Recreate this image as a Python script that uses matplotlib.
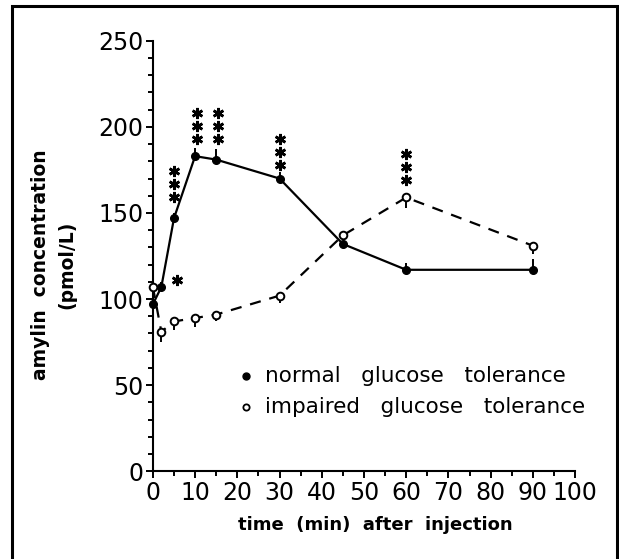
import matplotlib
matplotlib.use("Agg")
import matplotlib.pyplot as plt
from matplotlib.patches import Rectangle
from matplotlib.ticker import MultipleLocator

# sampling times (min after injection)
times = [0, 2, 5, 10, 15, 30, 45, 60, 90]

# amylin (pmol/L), normal glucose tolerance (filled), SEM drawn upward
normal = [97, 107, 147, 183, 181, 170, 132, 117, 117]
normal_sem = [3, 3, 3, 5, 6, 4, 2, 4, 6]

# impaired glucose tolerance (open), SEM drawn downward
impaired = [107, 81, 87, 89, 91, 102, 137, 159, 131]
impaired_sem = [3, 6, 5, 5, 4, 4, 2, 6, 5]

# significance marks: stacks of three stars (x, value of lowest star)
star3_x = [5, 10.4, 15.4, 30, 60]
star3_y = [159, 193, 193, 178, 169]
star1_x = [5.7]
star1_y = [111]

plt.rcParams['font.family'] = ['DejaVu Sans']

fig = plt.figure(figsize=(6.19, 5.59), dpi=100)
ax = fig.add_axes([0.247, 0.157, 0.682, 0.770])

# normal: solid line, filled dots, bars up
ax.errorbar(times, normal, yerr=[[0] * len(normal), normal_sem], fmt='-o',
            color='black', lw=1.6, ms=5.5, mfc='black', mec='black',
            elinewidth=1.4, capsize=0, clip_on=False, zorder=3)

# impaired: dashed line, open dots, bars down
ax.errorbar(times, impaired, yerr=[impaired_sem, [0] * len(impaired)], fmt='--o',
            color='black', lw=1.6, ms=5.5, mfc='white', mec='black', mew=1.4,
            elinewidth=1.4, capsize=0, dashes=(5, 4), clip_on=False, zorder=4)

# stars
step = 7.6
for x, y in zip(star3_x, star3_y):
    ax.plot([x, x, x], [y, y + step, y + 2 * step], ls='none', marker=(6, 2, 0),
            ms=8, mew=1.9, color='black', clip_on=False)
ax.plot(star1_x, star1_y, ls='none', marker=(6, 2, 0), ms=8, mew=1.9,
        color='black', clip_on=False)

# legend drawn by hand like the original
ax.plot([22], [55.5], 'o', ms=5, color='black')
ax.plot([22], [37.5], 'o', ms=4.5, mfc='white', mec='black', mew=1.3)
ax.text(26.5, 55.5, 'normal   glucose   tolerance', fontsize=15.5, va='center')
ax.text(26.5, 37.5, 'impaired   glucose   tolerance', fontsize=15.5, va='center')

ax.set_xlim(0, 100)
ax.set_ylim(0, 250)
ax.xaxis.set_major_locator(MultipleLocator(10))
ax.xaxis.set_minor_locator(MultipleLocator(5))
ax.yaxis.set_major_locator(MultipleLocator(50))
ax.yaxis.set_minor_locator(MultipleLocator(10))
ax.tick_params(which='major', length=5, width=1.4, direction='out',
               labelsize=17, pad=2)
ax.tick_params(which='minor', length=3.5, width=1.4, direction='out')
for side in ('top', 'right'):
    ax.spines[side].set_visible(False)
for side in ('left', 'bottom'):
    ax.spines[side].set_linewidth(1.5)

fig.text(0.606, 0.061, 'time  (min)  after  injection', fontsize=13,
         fontweight='bold', ha='center', va='center')
fig.text(0.087, 0.526, 'amylin  concentration\n(pmol/L)', fontsize=13.5,
         fontweight='bold', ha='center', va='center', rotation=90,
         multialignment='center', linespacing=1.45)

# frame round the whole figure
fig.add_artist(Rectangle((0.019, -0.02), 0.978, 1.009, transform=fig.transFigure,
                         fill=False, lw=2.2, color='black'))

fig.savefig('out.png', dpi=100)
